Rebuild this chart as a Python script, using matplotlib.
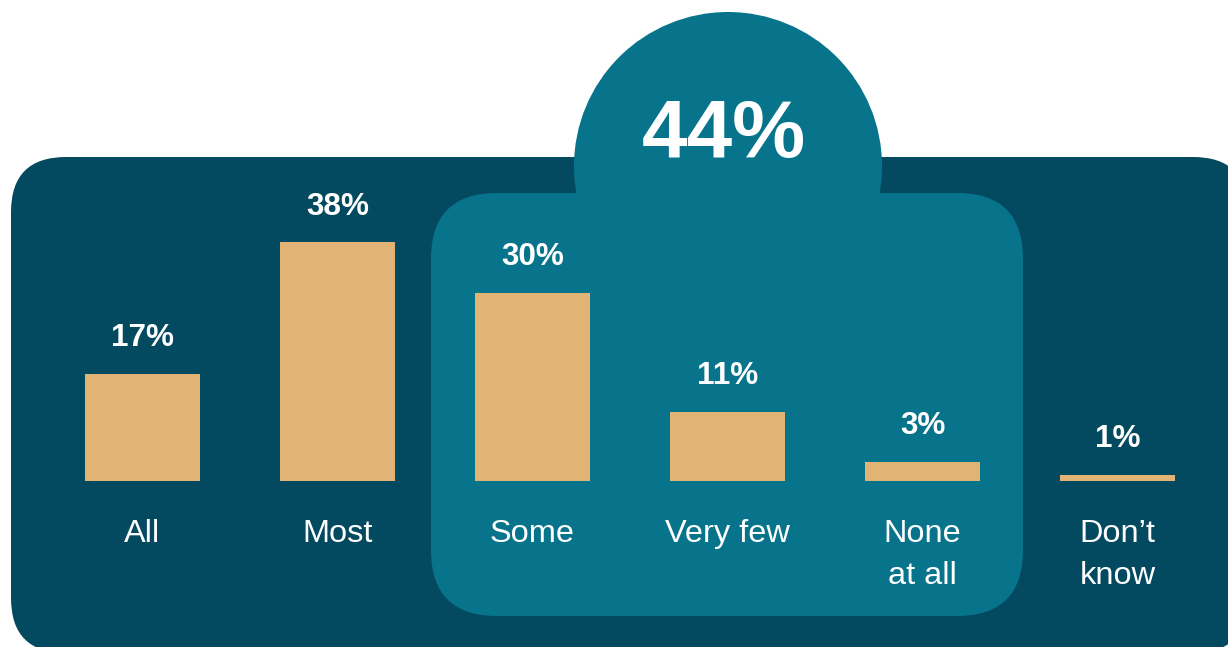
import matplotlib.pyplot as plt
from matplotlib.patches import FancyBboxPatch, Circle

# data
categories = ["All", "Most", "Some", "Very few", "None\nat all", "Don\u2019t\nknow"]
values = [17, 38, 30, 11, 3, 1]
total_some_or_less = "44%"

dark = "#034960"
teal = "#07748C"
gold = "#E1B476"

plt.rcParams['font.family'] = ['Liberation Sans', 'DejaVu Sans']

W, H = 1228, 647
fig = plt.figure(figsize=(W / 100, H / 100), dpi=100)

# background shapes in pixel coords (y down)
bg = fig.add_axes([0, 0, 1, 1])
bg.set_xlim(0, W)
bg.set_ylim(H, 0)
bg.axis('off')

r = 55
bg.add_patch(FancyBboxPatch((11 + r, 157 + r), 1248 - 11 - 2 * r, 653 - 157 - 2 * r,
                            boxstyle=f"round,pad={r}", fc=dark, ec='none'))
r2 = 66
bg.add_patch(FancyBboxPatch((431 + r2, 193 + r2), 1023 - 431 - 2 * r2, 616 - 193 - 2 * r2,
                            boxstyle=f"round,pad={r2}", fc=teal, ec='none'))
bg.add_patch(Circle((728, 166), 154, fc=teal, ec='none'))
bg.text(724, 157, total_some_or_less, ha='center', va='baseline',
        color='white', fontsize=59, fontweight='bold')

# bars
ax = fig.add_axes([0, 0, 1, 1])
ax.patch.set_alpha(0)
ax.axis('off')
step = 195.0
x0 = 142.5
ax.set_xlim(-x0 / step, (W - x0) / step)
scale = 6.28
base = 481
ax.set_ylim(-(H - base) / scale, base / scale)

x = list(range(len(values)))
ax.bar(x, values, width=115 / step, color=gold)

for i, v in enumerate(values):
    ax.annotate(f"{v}%", (i, v), xytext=(0, 20), textcoords='offset points',
                ha='center', va='baseline', color='white',
                fontsize=22.7, fontweight='bold')
    for j, line in enumerate(categories[i].split("\n")):
        ax.annotate(line, (i, 0), xytext=(0, -43.7 - 30.7 * j),
                    textcoords='offset points', ha='center', va='baseline',
                    color='white', fontsize=23.4)

fig.savefig("out.png", dpi=100, facecolor='white')
